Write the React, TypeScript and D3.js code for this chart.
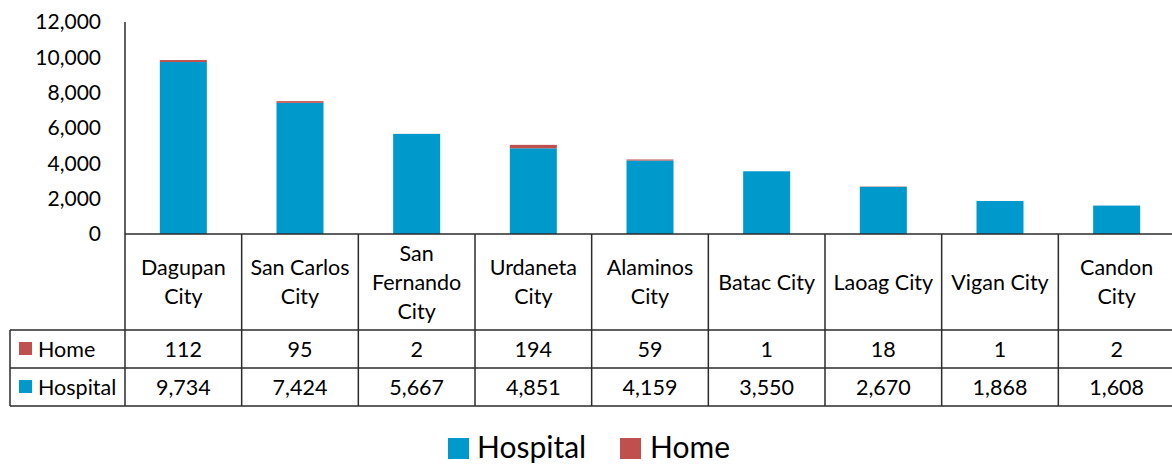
import React from "react";
import * as d3 from "d3";

const categories: string[][] = [
  ["Dagupan", "City"],
  ["San Carlos", "City"],
  ["San", "Fernando", "City"],
  ["Urdaneta", "City"],
  ["Alaminos", "City"],
  ["Batac City"],
  ["Laoag City"],
  ["Vigan City"],
  ["Candon", "City"],
];
const hospital = [9734, 7424, 5667, 4851, 4159, 3550, 2670, 1868, 1608];
const home = [112, 95, 2, 194, 59, 1, 18, 1, 2];
const yTicks = [0, 2000, 4000, 6000, 8000, 10000, 12000];

const BLUE = "#0099CC";
const RED = "#C0504D";
const FONT = "Lato, 'Open Sans', sans-serif";

export default function App() {
  const W = 1172, H = 465;
  const left = 125, right = 1175;
  const top = 22, base = 234;
  const headerBottom = 330, homeBottom = 368, hospBottom = 406;
  const tableLeft = 10;

  const keys = categories.map((c) => c.join(" "));
  const x = d3.scaleBand<string>().domain(keys).range([left, right]).paddingInner(0.597).paddingOuter(0.2985);
  const step = x.step();
  const y = d3.scaleLinear().domain([0, 12000]).range([base, top]);
  const fmt = d3.format(",");
  const lineColor = "#2b2b2b";
  const fs = 21;
  const tfs = 21.5;
  const lh = 29;

  const colEdges = d3.range(keys.length + 1).map((i) => left + i * step);

  return (
    <svg width={W} height={H} style={{ position: "absolute", left: 0, top: 0, background: "#fff" }} fontFamily={FONT}>
      {yTicks.map((t) => (
        <text key={t} x={101} y={y(t)} dy="0.35em" textAnchor="end" fontSize={fs} fill="#000">
          {fmt(t)}
        </text>
      ))}
      {keys.map((k, i) => (
        <g key={k}>
          <rect x={x(k)} width={x.bandwidth()} y={y(hospital[i])} height={y(0) - y(hospital[i])} fill={BLUE} />
          <rect x={x(k)} width={x.bandwidth()} y={y(hospital[i] + home[i])} height={y(hospital[i]) - y(hospital[i] + home[i])} fill={RED} />
        </g>
      ))}
      <line x1={left} x2={left} y1={top} y2={hospBottom} stroke={lineColor} strokeWidth={1.5} />
      <line x1={left} x2={right} y1={base} y2={base} stroke={lineColor} strokeWidth={1.5} />
      <line x1={tableLeft} x2={right} y1={headerBottom} y2={headerBottom} stroke={lineColor} strokeWidth={1.5} />
      <line x1={tableLeft} x2={right} y1={homeBottom} y2={homeBottom} stroke={lineColor} strokeWidth={1.5} />
      <line x1={tableLeft} x2={right} y1={hospBottom} y2={hospBottom} stroke={lineColor} strokeWidth={1.5} />
      <line x1={tableLeft} x2={tableLeft} y1={headerBottom} y2={hospBottom} stroke={lineColor} strokeWidth={1.5} />
      {colEdges.slice(1).map((cx, i) => (
        <line key={i} x1={cx} x2={cx} y1={base} y2={hospBottom} stroke={lineColor} strokeWidth={1.5} />
      ))}
      {categories.map((lines, i) => {
        const cx = (x(keys[i]) as number) + x.bandwidth() / 2;
        const mid = (base + headerBottom) / 2;
        const start = mid - ((lines.length - 1) * lh) / 2;
        return lines.map((ln, j) => (
          <text key={i + "-" + j} x={cx} y={start + j * lh} dy="0.35em" textAnchor="middle" fontSize={tfs} fill="#000">
            {ln}
          </text>
        ));
      })}
      <rect x={19} y={342} width={13} height={13} fill={RED} />
      <text x={38} y={(headerBottom + homeBottom) / 2} dy="0.35em" fontSize={tfs} fill="#000">Home</text>
      <rect x={19} y={380} width={13} height={13} fill={BLUE} />
      <text x={38} y={(homeBottom + hospBottom) / 2} dy="0.35em" fontSize={tfs} fill="#000">Hospital</text>
      {keys.map((k, i) => {
        const cx = (x(k) as number) + x.bandwidth() / 2;
        return (
          <g key={k}>
            <text x={cx} y={(headerBottom + homeBottom) / 2} dy="0.35em" textAnchor="middle" fontSize={tfs} fill="#000">{fmt(home[i])}</text>
            <text x={cx} y={(homeBottom + hospBottom) / 2} dy="0.35em" textAnchor="middle" fontSize={tfs} fill="#000">{fmt(hospital[i])}</text>
          </g>
        );
      })}
      <rect x={448} y={438} width={21} height={21} fill={BLUE} />
      <text x={477} y={447.5} dy="0.35em" fontSize={30} fill="#000">Hospital</text>
      <rect x={620} y={438} width={21} height={21} fill={RED} />
      <text x={650} y={447.5} dy="0.35em" fontSize={30} fill="#000">Home</text>
    </svg>
  );
}
